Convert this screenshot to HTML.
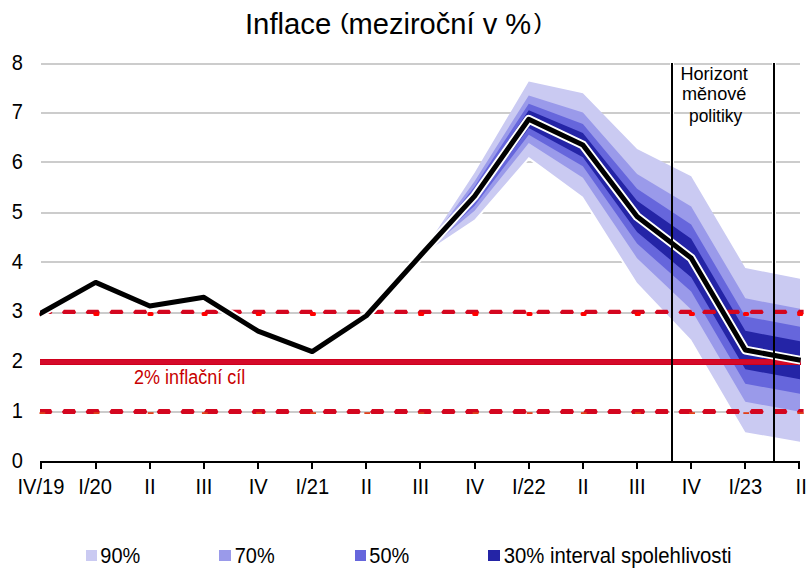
<!DOCTYPE html>
<html><head><meta charset="utf-8"><title>Inflace</title>
<style>html,body{margin:0;padding:0;background:#fff;} svg{display:block;}</style>
</head><body>
<svg width="810" height="586" viewBox="0 0 810 586">
<rect width="810" height="586" fill="#fff"/>
<rect x="41" y="63" width="759" height="2" fill="#CCCCCC"/>
<rect x="41" y="112" width="759" height="2" fill="#CCCCCC"/>
<rect x="41" y="161" width="759" height="2" fill="#CCCCCC"/>
<rect x="41" y="212" width="759" height="2" fill="#CCCCCC"/>
<rect x="41" y="261" width="759" height="2" fill="#CCCCCC"/>
<rect x="41" y="312" width="759" height="2" fill="#CCCCCC"/>
<rect x="41" y="361" width="759" height="2" fill="#CCCCCC"/>
<rect x="41" y="411" width="759" height="2" fill="#CCCCCC"/>
<polyline points="420.48,255.54 474.62,219.47 528.76,157.03 582.90,196.83 637.04,282.65 691.18,339.86 745.32,432.15 800.00,441.85" fill="none" stroke="#fff" stroke-width="4" stroke-linejoin="round"/>
<rect x="670" y="62" width="4" height="400" fill="#fff"/>
<rect x="772" y="62" width="4" height="400" fill="#fff"/>
<polygon points="420.48,255.54 474.62,172.70 528.76,81.41 582.90,93.35 637.04,149.07 691.18,176.19 745.32,267.98 800.00,278.67 800.00,441.85 745.32,432.15 691.18,339.86 637.04,282.65 582.90,196.83 528.76,157.03 474.62,219.47 420.48,255.54" fill="#CACAF2"/>
<polygon points="420.48,255.54 474.62,181.36 528.76,95.40 582.90,112.50 637.04,174.01 691.18,206.47 745.32,298.35 800.00,308.86 800.00,411.66 745.32,401.78 691.18,309.58 637.04,258.17 582.90,177.69 528.76,143.04 474.62,210.82 420.48,255.54" fill="#9A9AEA"/>
<polygon points="420.48,255.54 474.62,186.50 528.76,103.72 582.90,123.88 637.04,188.85 691.18,224.47 745.32,316.41 800.00,326.81 800.00,393.71 745.32,383.72 691.18,291.58 637.04,243.61 582.90,166.31 528.76,134.72 474.62,205.67 420.48,255.54" fill="#6666DC"/>
<polygon points="420.48,255.54 474.62,190.61 528.76,110.37 582.90,132.99 637.04,200.71 691.18,238.87 745.32,330.85 800.00,341.17 800.00,379.35 745.32,369.27 691.18,277.18 637.04,231.97 582.90,157.20 528.76,128.07 474.62,201.56 420.48,255.54" fill="#2424A6"/>
<defs><clipPath id="pc"><rect x="40" y="0" width="763.6" height="586"/></clipPath></defs>
<path d="M38.19,312.20 L40.19,309.80 L50.99,309.80 L52.39,312.20 L51.19,314.00 L39.49,314.00Z M61.90,312.20 L63.90,309.80 L74.70,309.80 L76.10,312.20 L74.90,314.00 L63.20,314.00Z M85.61,312.20 L87.61,309.80 L98.41,309.80 L99.81,312.20 L98.61,314.00 L86.91,314.00Z M109.32,312.20 L111.32,309.80 L122.12,309.80 L123.52,312.20 L122.32,314.00 L110.62,314.00Z M133.03,312.20 L135.03,309.80 L145.83,309.80 L147.23,312.20 L146.03,314.00 L134.33,314.00Z M156.74,312.20 L158.74,309.80 L169.54,309.80 L170.94,312.20 L169.74,314.00 L158.04,314.00Z M180.45,312.20 L182.45,309.80 L193.25,309.80 L194.65,312.20 L193.45,314.00 L181.75,314.00Z M204.16,312.20 L206.16,309.80 L216.96,309.80 L218.36,312.20 L217.16,314.00 L205.46,314.00Z M227.87,312.20 L229.87,309.80 L240.67,309.80 L242.07,312.20 L240.87,314.00 L229.17,314.00Z M251.58,312.20 L253.58,309.80 L264.38,309.80 L265.78,312.20 L264.58,314.00 L252.88,314.00Z M275.29,312.20 L277.29,309.80 L288.09,309.80 L289.49,312.20 L288.29,314.00 L276.59,314.00Z M299.00,312.20 L301.00,309.80 L311.80,309.80 L313.20,312.20 L312.00,314.00 L300.30,314.00Z M322.71,312.20 L324.71,309.80 L335.51,309.80 L336.91,312.20 L335.71,314.00 L324.01,314.00Z M346.42,312.20 L348.42,309.80 L359.22,309.80 L360.62,312.20 L359.42,314.00 L347.72,314.00Z M370.13,312.20 L372.13,309.80 L382.93,309.80 L384.33,312.20 L383.13,314.00 L371.43,314.00Z M393.84,312.20 L395.84,309.80 L406.64,309.80 L408.04,312.20 L406.84,314.00 L395.14,314.00Z M417.55,312.20 L419.55,309.80 L430.35,309.80 L431.75,312.20 L430.55,314.00 L418.85,314.00Z M441.26,312.20 L443.26,309.80 L454.06,309.80 L455.46,312.20 L454.26,314.00 L442.56,314.00Z M464.97,312.20 L466.97,309.80 L477.77,309.80 L479.17,312.20 L477.97,314.00 L466.27,314.00Z M488.68,312.20 L490.68,309.80 L501.48,309.80 L502.88,312.20 L501.68,314.00 L489.98,314.00Z M512.39,312.20 L514.39,309.80 L525.19,309.80 L526.59,312.20 L525.39,314.00 L513.69,314.00Z M536.10,312.20 L538.10,309.80 L548.90,309.80 L550.30,312.20 L549.10,314.00 L537.40,314.00Z M559.81,312.20 L561.81,309.80 L572.61,309.80 L574.01,312.20 L572.81,314.00 L561.11,314.00Z M583.52,312.20 L585.52,309.80 L596.32,309.80 L597.72,312.20 L596.52,314.00 L584.82,314.00Z M607.23,312.20 L609.23,309.80 L620.03,309.80 L621.43,312.20 L620.23,314.00 L608.53,314.00Z M630.94,312.20 L632.94,309.80 L643.74,309.80 L645.14,312.20 L643.94,314.00 L632.24,314.00Z M654.65,312.20 L656.65,309.80 L667.45,309.80 L668.85,312.20 L667.65,314.00 L655.95,314.00Z M678.36,312.20 L680.36,309.80 L691.16,309.80 L692.56,312.20 L691.36,314.00 L679.66,314.00Z M702.07,312.20 L704.07,309.80 L714.87,309.80 L716.27,312.20 L715.07,314.00 L703.37,314.00Z M725.78,312.20 L727.78,309.80 L738.58,309.80 L739.98,312.20 L738.78,314.00 L727.08,314.00Z M749.49,312.20 L751.49,309.80 L762.29,309.80 L763.69,312.20 L762.49,314.00 L750.79,314.00Z M773.20,312.20 L775.20,309.80 L786.00,309.80 L787.40,312.20 L786.20,314.00 L774.50,314.00Z M796.91,312.20 L798.91,309.80 L809.71,309.80 L811.11,312.20 L809.91,314.00 L798.21,314.00Z" fill="#D4061F" clip-path="url(#pc)"/>
<path d="M38.19,411.75 L40.19,408.95 L50.99,408.95 L52.39,411.75 L51.19,413.95 L39.49,413.95Z M61.90,411.75 L63.90,408.95 L74.70,408.95 L76.10,411.75 L74.90,413.95 L63.20,413.95Z M85.61,411.75 L87.61,408.95 L98.41,408.95 L99.81,411.75 L98.61,413.95 L86.91,413.95Z M109.32,411.75 L111.32,408.95 L122.12,408.95 L123.52,411.75 L122.32,413.95 L110.62,413.95Z M133.03,411.75 L135.03,408.95 L145.83,408.95 L147.23,411.75 L146.03,413.95 L134.33,413.95Z M156.74,411.75 L158.74,408.95 L169.54,408.95 L170.94,411.75 L169.74,413.95 L158.04,413.95Z M180.45,411.75 L182.45,408.95 L193.25,408.95 L194.65,411.75 L193.45,413.95 L181.75,413.95Z M204.16,411.75 L206.16,408.95 L216.96,408.95 L218.36,411.75 L217.16,413.95 L205.46,413.95Z M227.87,411.75 L229.87,408.95 L240.67,408.95 L242.07,411.75 L240.87,413.95 L229.17,413.95Z M251.58,411.75 L253.58,408.95 L264.38,408.95 L265.78,411.75 L264.58,413.95 L252.88,413.95Z M275.29,411.75 L277.29,408.95 L288.09,408.95 L289.49,411.75 L288.29,413.95 L276.59,413.95Z M299.00,411.75 L301.00,408.95 L311.80,408.95 L313.20,411.75 L312.00,413.95 L300.30,413.95Z M322.71,411.75 L324.71,408.95 L335.51,408.95 L336.91,411.75 L335.71,413.95 L324.01,413.95Z M346.42,411.75 L348.42,408.95 L359.22,408.95 L360.62,411.75 L359.42,413.95 L347.72,413.95Z M370.13,411.75 L372.13,408.95 L382.93,408.95 L384.33,411.75 L383.13,413.95 L371.43,413.95Z M393.84,411.75 L395.84,408.95 L406.64,408.95 L408.04,411.75 L406.84,413.95 L395.14,413.95Z M417.55,411.75 L419.55,408.95 L430.35,408.95 L431.75,411.75 L430.55,413.95 L418.85,413.95Z M441.26,411.75 L443.26,408.95 L454.06,408.95 L455.46,411.75 L454.26,413.95 L442.56,413.95Z M464.97,411.75 L466.97,408.95 L477.77,408.95 L479.17,411.75 L477.97,413.95 L466.27,413.95Z M488.68,411.75 L490.68,408.95 L501.48,408.95 L502.88,411.75 L501.68,413.95 L489.98,413.95Z M512.39,411.75 L514.39,408.95 L525.19,408.95 L526.59,411.75 L525.39,413.95 L513.69,413.95Z M536.10,411.75 L538.10,408.95 L548.90,408.95 L550.30,411.75 L549.10,413.95 L537.40,413.95Z M559.81,411.75 L561.81,408.95 L572.61,408.95 L574.01,411.75 L572.81,413.95 L561.11,413.95Z M583.52,411.75 L585.52,408.95 L596.32,408.95 L597.72,411.75 L596.52,413.95 L584.82,413.95Z M607.23,411.75 L609.23,408.95 L620.03,408.95 L621.43,411.75 L620.23,413.95 L608.53,413.95Z M630.94,411.75 L632.94,408.95 L643.74,408.95 L645.14,411.75 L643.94,413.95 L632.24,413.95Z M654.65,411.75 L656.65,408.95 L667.45,408.95 L668.85,411.75 L667.65,413.95 L655.95,413.95Z M678.36,411.75 L680.36,408.95 L691.16,408.95 L692.56,411.75 L691.36,413.95 L679.66,413.95Z M702.07,411.75 L704.07,408.95 L714.87,408.95 L716.27,411.75 L715.07,413.95 L703.37,413.95Z M725.78,411.75 L727.78,408.95 L738.58,408.95 L739.98,411.75 L738.78,413.95 L727.08,413.95Z M749.49,411.75 L751.49,408.95 L762.29,408.95 L763.69,411.75 L762.49,413.95 L750.79,413.95Z M773.20,411.75 L775.20,408.95 L786.00,408.95 L787.40,411.75 L786.20,413.95 L774.50,413.95Z M796.91,411.75 L798.91,408.95 L809.71,408.95 L811.11,411.75 L809.91,413.95 L798.21,413.95Z" fill="#D4061F" clip-path="url(#pc)"/>
<rect x="39.20" y="312" width="6" height="4" rx="1.5" fill="#FF0000"/>
<rect x="39.50" y="412.2" width="5.8" height="1.8" fill="#E0401A"/>
<rect x="93.34" y="312" width="6" height="4" rx="1.5" fill="#FF0000"/>
<rect x="93.64" y="412.2" width="5.8" height="1.8" fill="#E0401A"/>
<rect x="147.48" y="312" width="6" height="4" rx="1.5" fill="#FF0000"/>
<rect x="147.78" y="412.2" width="5.8" height="1.8" fill="#E0401A"/>
<rect x="201.62" y="312" width="6" height="4" rx="1.5" fill="#FF0000"/>
<rect x="201.92" y="412.2" width="5.8" height="1.8" fill="#E0401A"/>
<rect x="255.76" y="312" width="6" height="4" rx="1.5" fill="#FF0000"/>
<rect x="256.06" y="412.2" width="5.8" height="1.8" fill="#E0401A"/>
<rect x="309.90" y="312" width="6" height="4" rx="1.5" fill="#FF0000"/>
<rect x="310.20" y="412.2" width="5.8" height="1.8" fill="#E0401A"/>
<rect x="364.04" y="312" width="6" height="4" rx="1.5" fill="#FF0000"/>
<rect x="364.34" y="412.2" width="5.8" height="1.8" fill="#E0401A"/>
<rect x="418.18" y="312" width="6" height="4" rx="1.5" fill="#FF0000"/>
<rect x="418.48" y="412.2" width="5.8" height="1.8" fill="#E0401A"/>
<rect x="472.32" y="312" width="6" height="4" rx="1.5" fill="#FF0000"/>
<rect x="472.62" y="412.2" width="5.8" height="1.8" fill="#E0401A"/>
<rect x="526.46" y="312" width="6" height="4" rx="1.5" fill="#FF0000"/>
<rect x="526.76" y="412.2" width="5.8" height="1.8" fill="#E0401A"/>
<rect x="580.60" y="312" width="6" height="4" rx="1.5" fill="#FF0000"/>
<rect x="580.90" y="412.2" width="5.8" height="1.8" fill="#E0401A"/>
<rect x="634.74" y="312" width="6" height="4" rx="1.5" fill="#FF0000"/>
<rect x="635.04" y="412.2" width="5.8" height="1.8" fill="#E0401A"/>
<rect x="688.88" y="312" width="6" height="4" rx="1.5" fill="#FF0000"/>
<rect x="689.18" y="412.2" width="5.8" height="1.8" fill="#E0401A"/>
<rect x="743.02" y="312" width="6" height="4" rx="1.5" fill="#FF0000"/>
<rect x="743.32" y="412.2" width="5.8" height="1.8" fill="#E0401A"/>
<rect x="797.16" y="312" width="6" height="4" rx="1.5" fill="#FF0000"/>
<rect x="797.46" y="412.2" width="5.8" height="1.8" fill="#E0401A"/>
<rect x="40" y="359" width="761" height="6" fill="#CF001C"/>
<rect x="40" y="360" width="761" height="4" fill="#D50A2A"/>
<clipPath id="lc"><rect x="40" y="0" width="770" height="586"/></clipPath>
<polyline points="35.50,316.11 41.50,312.75 95.64,282.40 149.78,306.03 203.92,297.33 258.06,331.16 312.20,351.56 366.34,315.74 420.48,255.54 474.62,196.09 528.76,119.22 582.90,145.09 637.04,216.48 691.18,258.02 745.32,350.06 800.60,360.26" fill="none" stroke="#fff" stroke-width="8.8" stroke-linejoin="round" clip-path="url(#lc)"/>
<polyline points="35.50,316.11 41.50,312.75 95.64,282.40 149.78,306.03 203.92,297.33 258.06,331.16 312.20,351.56 366.34,315.74 420.48,255.54 474.62,196.09 528.76,119.22 582.90,145.09 637.04,216.48 691.18,258.02 745.32,350.06 800.60,360.26" fill="none" stroke="#000" stroke-width="5.0" stroke-linejoin="round" clip-path="url(#lc)"/>
<rect x="671" y="63" width="2" height="399" fill="#000"/>
<rect x="773" y="63" width="2" height="399" fill="#000"/>
<rect x="40" y="461" width="760" height="2" fill="#000"/>
<rect x="40" y="461" width="2" height="8" fill="#000"/>
<rect x="95" y="461" width="2" height="8" fill="#000"/>
<rect x="149" y="461" width="2" height="8" fill="#000"/>
<rect x="203" y="461" width="2" height="8" fill="#000"/>
<rect x="257" y="461" width="2" height="8" fill="#000"/>
<rect x="311" y="461" width="2" height="8" fill="#000"/>
<rect x="365" y="461" width="2" height="8" fill="#000"/>
<rect x="419" y="461" width="2" height="8" fill="#000"/>
<rect x="474" y="461" width="2" height="8" fill="#000"/>
<rect x="528" y="461" width="2" height="8" fill="#000"/>
<rect x="582" y="461" width="2" height="8" fill="#000"/>
<rect x="636" y="461" width="2" height="8" fill="#000"/>
<rect x="690" y="461" width="2" height="8" fill="#000"/>
<rect x="744" y="461" width="2" height="8" fill="#000"/>
<rect x="798" y="461" width="2" height="8" fill="#000"/>
<text x="244.95" y="33.7" font-family="'Liberation Sans', sans-serif" font-size="30.3" textLength="86.38" lengthAdjust="spacingAndGlyphs" fill="#000">Inflace</text>
<text x="339.93" y="28.8" font-family="'Liberation Sans', sans-serif" font-size="22.4" textLength="8.71" lengthAdjust="spacingAndGlyphs" fill="#000">(</text>
<text x="348.48" y="33.7" font-family="'Liberation Sans', sans-serif" font-size="30.3" textLength="182.72" lengthAdjust="spacingAndGlyphs" fill="#000">meziroční v %</text>
<text x="534.10" y="28.8" font-family="'Liberation Sans', sans-serif" font-size="22.4" textLength="7.84" lengthAdjust="spacingAndGlyphs" fill="#000">)</text>
<text transform="translate(22.9 467.5) scale(0.92 1)" font-family="'Liberation Sans', sans-serif" font-size="21.8" text-anchor="end" fill="#000">0</text>
<text transform="translate(22.9 417.8) scale(0.92 1)" font-family="'Liberation Sans', sans-serif" font-size="21.8" text-anchor="end" fill="#000">1</text>
<text transform="translate(22.9 368.0) scale(0.92 1)" font-family="'Liberation Sans', sans-serif" font-size="21.8" text-anchor="end" fill="#000">2</text>
<text transform="translate(22.9 318.2) scale(0.92 1)" font-family="'Liberation Sans', sans-serif" font-size="21.8" text-anchor="end" fill="#000">3</text>
<text transform="translate(22.9 268.5) scale(0.92 1)" font-family="'Liberation Sans', sans-serif" font-size="21.8" text-anchor="end" fill="#000">4</text>
<text transform="translate(22.9 218.8) scale(0.92 1)" font-family="'Liberation Sans', sans-serif" font-size="21.8" text-anchor="end" fill="#000">5</text>
<text transform="translate(22.9 169.0) scale(0.92 1)" font-family="'Liberation Sans', sans-serif" font-size="21.8" text-anchor="end" fill="#000">6</text>
<text transform="translate(22.9 119.2) scale(0.92 1)" font-family="'Liberation Sans', sans-serif" font-size="21.8" text-anchor="end" fill="#000">7</text>
<text transform="translate(22.9 69.5) scale(0.92 1)" font-family="'Liberation Sans', sans-serif" font-size="21.8" text-anchor="end" fill="#000">8</text>
<text transform="translate(41.0 494) scale(0.95 1)" font-family="'Liberation Sans', sans-serif" font-size="21.2" text-anchor="middle" fill="#000">IV/19</text>
<text transform="translate(95.1 494) scale(0.95 1)" font-family="'Liberation Sans', sans-serif" font-size="21.2" text-anchor="middle" fill="#000">I/20</text>
<text transform="translate(149.9 494) scale(0.95 1)" font-family="'Liberation Sans', sans-serif" font-size="21.2" text-anchor="middle" fill="#000">II</text>
<text transform="translate(204.0 494) scale(0.95 1)" font-family="'Liberation Sans', sans-serif" font-size="21.2" text-anchor="middle" fill="#000">III</text>
<text transform="translate(258.2 494) scale(0.95 1)" font-family="'Liberation Sans', sans-serif" font-size="21.2" text-anchor="middle" fill="#000">IV</text>
<text transform="translate(312.3 494) scale(0.95 1)" font-family="'Liberation Sans', sans-serif" font-size="21.2" text-anchor="middle" fill="#000">I/21</text>
<text transform="translate(366.4 494) scale(0.95 1)" font-family="'Liberation Sans', sans-serif" font-size="21.2" text-anchor="middle" fill="#000">II</text>
<text transform="translate(420.6 494) scale(0.95 1)" font-family="'Liberation Sans', sans-serif" font-size="21.2" text-anchor="middle" fill="#000">III</text>
<text transform="translate(474.7 494) scale(0.95 1)" font-family="'Liberation Sans', sans-serif" font-size="21.2" text-anchor="middle" fill="#000">IV</text>
<text transform="translate(528.9 494) scale(0.95 1)" font-family="'Liberation Sans', sans-serif" font-size="21.2" text-anchor="middle" fill="#000">I/22</text>
<text transform="translate(583.0 494) scale(0.95 1)" font-family="'Liberation Sans', sans-serif" font-size="21.2" text-anchor="middle" fill="#000">II</text>
<text transform="translate(637.1 494) scale(0.95 1)" font-family="'Liberation Sans', sans-serif" font-size="21.2" text-anchor="middle" fill="#000">III</text>
<text transform="translate(691.3 494) scale(0.95 1)" font-family="'Liberation Sans', sans-serif" font-size="21.2" text-anchor="middle" fill="#000">IV</text>
<text transform="translate(745.4 494) scale(0.95 1)" font-family="'Liberation Sans', sans-serif" font-size="21.2" text-anchor="middle" fill="#000">I/23</text>
<text transform="translate(801.2 494) scale(0.95 1)" font-family="'Liberation Sans', sans-serif" font-size="21.2" text-anchor="middle" fill="#000">II</text>
<text x="680.43" y="79.85" font-family="'Liberation Sans', sans-serif" font-size="18.7" textLength="67.48" lengthAdjust="spacingAndGlyphs" fill="#000">Horizont</text>
<text x="681.93" y="99.85" font-family="'Liberation Sans', sans-serif" font-size="18.7" textLength="64.44" lengthAdjust="spacingAndGlyphs" fill="#000">měnové</text>
<text x="689.07" y="121.6" font-family="'Liberation Sans', sans-serif" font-size="18.7" textLength="53.04" lengthAdjust="spacingAndGlyphs" fill="#000">politiky</text>
<text x="134.08" y="383.9" font-family="'Liberation Sans', sans-serif" font-size="19.6" textLength="111.14" lengthAdjust="spacingAndGlyphs" fill="#C80000">2% inflační cíl</text>
<rect x="86" y="550" width="11" height="11" fill="#CACAF2"/>
<rect x="219" y="550" width="12" height="11" fill="#9A9AEA"/>
<rect x="355" y="550" width="11" height="11" fill="#6666DC"/>
<rect x="488" y="550" width="12" height="11" fill="#2424A6"/>
<text x="100.29" y="562.8" font-family="'Liberation Sans', sans-serif" font-size="22" textLength="39.96" lengthAdjust="spacingAndGlyphs" fill="#000">90%</text>
<text x="234.69" y="562.8" font-family="'Liberation Sans', sans-serif" font-size="22" textLength="39.96" lengthAdjust="spacingAndGlyphs" fill="#000">70%</text>
<text x="369.29" y="562.8" font-family="'Liberation Sans', sans-serif" font-size="22" textLength="39.96" lengthAdjust="spacingAndGlyphs" fill="#000">50%</text>
<text x="503.78" y="562.8" font-family="'Liberation Sans', sans-serif" font-size="22" textLength="227.87" lengthAdjust="spacingAndGlyphs" fill="#000">30% interval spolehlivosti</text>
</svg>
</body></html>
